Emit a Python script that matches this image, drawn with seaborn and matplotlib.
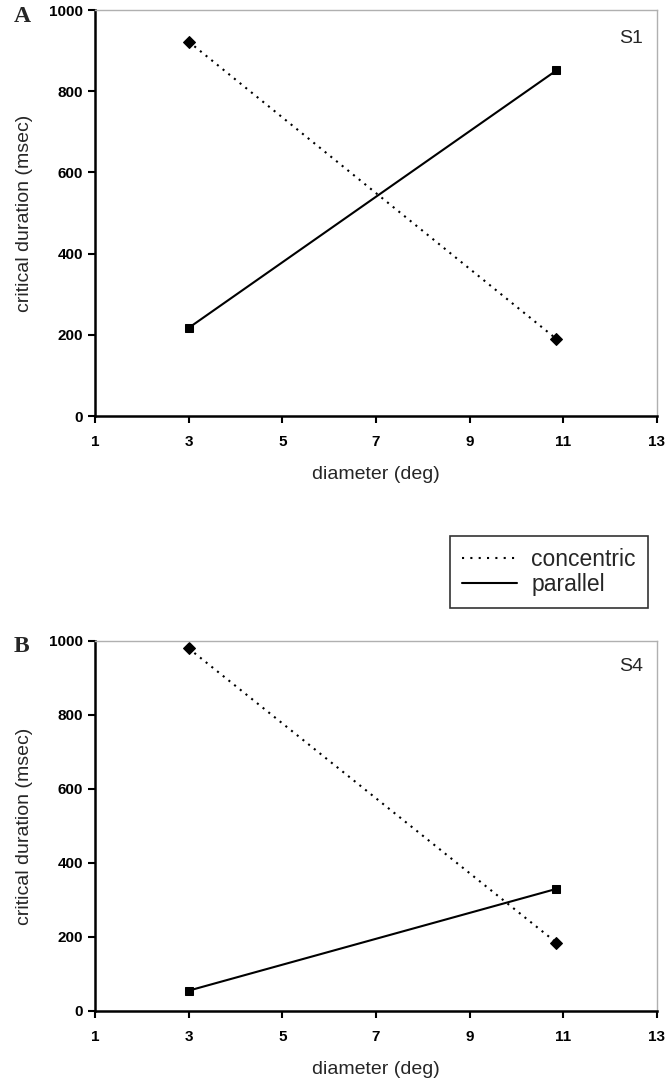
import numpy as np
import pandas as pd
import matplotlib
matplotlib.use("Agg")
import matplotlib.pyplot as plt
import seaborn as sns
from matplotlib.lines import Line2D

# data
diameter = [3, 10.85]
s1_concentric = [922, 190]
s1_parallel = [217, 851]
s4_concentric = [980, 185]
s4_parallel = [55, 330]
x_ticks = [1, 3, 5, 7, 9, 11, 13]
y_ticks = [0, 200, 400, 600, 800, 1000]

sns.set_theme(style="white")
plt.rcParams['font.family'] = ['Liberation Sans Narrow', 'Liberation Sans', 'DejaVu Sans']

fig = plt.figure(figsize=(6.71, 10.85), dpi=100)
W, H = 671, 1085
ax1 = fig.add_axes([95 / W, 1 - 416 / H, (657 - 95) / W, (416 - 10) / H])
ax2 = fig.add_axes([95 / W, 1 - 1011 / H, (657 - 95) / W, (1011 - 641) / H])


def draw(ax, conc, par, subj, letter):
    df = pd.DataFrame({'diameter': diameter * 2,
                       'duration': conc + par,
                       'condition': ['concentric'] * 2 + ['parallel'] * 2})
    sns.lineplot(data=df, x='diameter', y='duration', style='condition',
                 markers={'concentric': 'D', 'parallel': 's'},
                 dashes={'concentric': (1, 2.5), 'parallel': ''},
                 color='black', linewidth=1.5, markersize=6,
                 markeredgecolor='black', ax=ax, legend=False)
    ax.set_xlim(1, 13)
    ax.set_ylim(0, 1000)
    ax.set_xticks(x_ticks)
    ax.set_yticks(y_ticks)
    ax.tick_params(axis='both', direction='out', length=5, width=1.5,
                   colors='black', labelsize=11, bottom=True, left=True)
    ax.tick_params(axis='x', pad=9)
    for lab in ax.get_xticklabels() + ax.get_yticklabels():
        lab.set_fontweight('bold')
    for s in ['left', 'bottom']:
        ax.spines[s].set_color('black')
        ax.spines[s].set_linewidth(1.8)
    for s in ['top', 'right']:
        ax.spines[s].set_color('#b0b0b0')
        ax.spines[s].set_linewidth(1.0)
    ax.set_xlabel('diameter (deg)', fontsize=14, family=['Liberation Sans', 'DejaVu Sans'], labelpad=12)
    ax.set_ylabel('critical duration (msec)', fontsize=14, family=['Liberation Sans', 'DejaVu Sans'], labelpad=12)
    ax.text(0.975, 0.93, subj, transform=ax.transAxes, ha='right', va='center',
            fontsize=14, family=['Liberation Sans', 'DejaVu Sans'])
    ax.text(-0.145, 0.985, letter, transform=ax.transAxes, ha='left', va='center',
            fontsize=17, fontweight='bold', family=['Liberation Serif', 'DejaVu Serif'])


draw(ax1, s1_concentric, s1_parallel, 'S1', 'A')
draw(ax2, s4_concentric, s4_parallel, 'S4', 'B')

# shared legend between the panels
handles = [Line2D([], [], color='black', linestyle=(0, (1, 3)), linewidth=1.5),
           Line2D([], [], color='black', linestyle='-', linewidth=1.5)]
leg = fig.legend(handles, ['concentric', 'parallel'],
                 loc='center', bbox_to_anchor=(549 / W, 1 - 572 / H),
                 frameon=True, fancybox=False, edgecolor='black',
                 prop={'family': ['Liberation Sans', 'DejaVu Sans'], 'size': 16.5},
                 handlelength=2.4, labelspacing=0.05, borderpad=0.55, handletextpad=0.6,
                 borderaxespad=0)
leg.get_frame().set_linewidth(1.2)

fig.savefig('out.png', dpi=100)
